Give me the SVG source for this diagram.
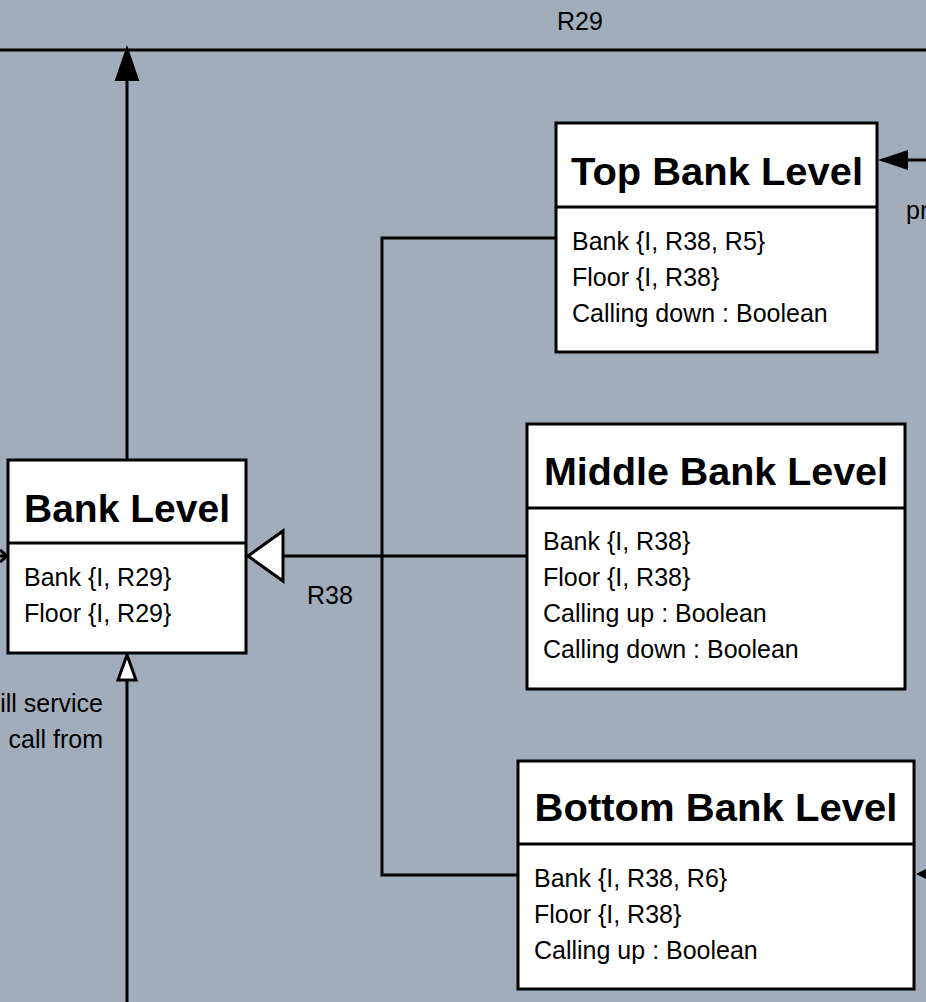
<svg xmlns="http://www.w3.org/2000/svg" width="926" height="1002" viewBox="0 0 926 1002">
<style>
.box{fill:#fff;stroke:#000;stroke-width:3}
.ln{fill:none;stroke:#000;stroke-width:3}
.title{font-family:"Liberation Sans",Arial,sans-serif;font-weight:bold;font-size:39px;text-anchor:middle;fill:#000}
.attr{font-family:"Liberation Sans",Arial,sans-serif;font-size:25px;fill:#000}
.lbl{font-family:"Liberation Sans",Arial,sans-serif;font-size:25px;fill:#000}
</style>
<rect x="0" y="0" width="926" height="1002" fill="#A1ADBA"/>
<g id="connectors">
<line class="ln" x1="0" y1="50" x2="926" y2="50"/>
<line class="ln" x1="127" y1="78" x2="127" y2="460"/>
<polygon points="127,48 116,80 138,80" fill="#000" stroke="#000" stroke-width="2"/>
<line class="ln" x1="127" y1="680" x2="127" y2="1002"/>
<polygon points="127,655 118,680 136,680" fill="#fff" stroke="#000" stroke-width="3"/>
<polyline class="ln" points="0,556 8,556"/>
<polyline class="ln" points="0,550 7,556 0,562"/>
<line class="ln" x1="283" y1="556" x2="527" y2="556"/>
<polygon points="248,556 283,531 283,581" fill="#fff" stroke="#000" stroke-width="3"/>
<polyline class="ln" points="556,238 382,238 382,875 518,875"/>
<line class="ln" x1="905" y1="160" x2="926" y2="160"/>
<polygon points="878,160 908,150 908,170" fill="#000"/>
<polygon points="916,874 926,869 926,879" fill="#000"/>
<text class="lbl" x="580" y="30" text-anchor="middle">R29</text>
<text class="lbl" x="330" y="604" text-anchor="middle">R38</text>
<text class="lbl" x="103" y="712" text-anchor="end">ill service</text>
<text class="lbl" x="103" y="748" text-anchor="end">call from</text>
<text class="lbl" x="906" y="219">pr</text>
</g>
<g id="bank-level">
<rect class="box" x="8" y="460" width="238" height="193"/>
<line class="ln" x1="8" y1="543" x2="246" y2="543"/>
<text class="title" x="127" y="522" textLength="206" lengthAdjust="spacingAndGlyphs">Bank Level</text>
<text class="attr" x="24" y="586">Bank {I, R29}</text>
<text class="attr" x="24" y="622">Floor {I, R29}</text>
</g>
<g id="top-bank-level">
<rect class="box" x="556" y="123" width="321" height="229"/>
<line class="ln" x1="556" y1="207" x2="877" y2="207"/>
<text class="title" x="717" y="185" textLength="292" lengthAdjust="spacingAndGlyphs">Top Bank Level</text>
<text class="attr" x="572" y="250">Bank {I, R38, R5}</text>
<text class="attr" x="572" y="286">Floor {I, R38}</text>
<text class="attr" x="572" y="322">Calling down : Boolean</text>
</g>
<g id="middle-bank-level">
<rect class="box" x="527" y="424" width="378" height="265"/>
<line class="ln" x1="527" y1="508" x2="905" y2="508"/>
<text class="title" x="716" y="485" textLength="344" lengthAdjust="spacingAndGlyphs">Middle Bank Level</text>
<text class="attr" x="543" y="550">Bank {I, R38}</text>
<text class="attr" x="543" y="586">Floor {I, R38}</text>
<text class="attr" x="543" y="622">Calling up : Boolean</text>
<text class="attr" x="543" y="658">Calling down : Boolean</text>
</g>
<g id="bottom-bank-level">
<rect class="box" x="518" y="761" width="396" height="228"/>
<line class="ln" x1="518" y1="844" x2="914" y2="844"/>
<text class="title" x="716" y="821" textLength="363" lengthAdjust="spacingAndGlyphs">Bottom Bank Level</text>
<text class="attr" x="534" y="887">Bank {I, R38, R6}</text>
<text class="attr" x="534" y="923">Floor {I, R38}</text>
<text class="attr" x="534" y="959">Calling up : Boolean</text>
</g>
</svg>
